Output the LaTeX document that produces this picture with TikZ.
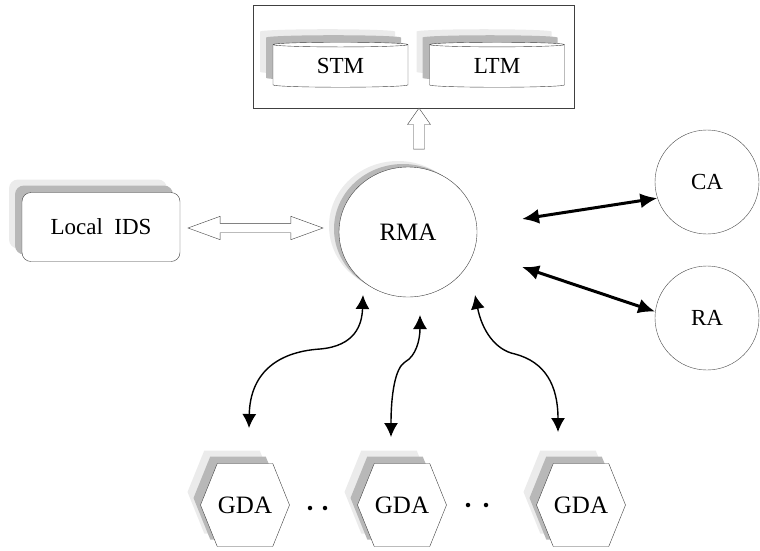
\documentclass[tikz,border=0pt]{standalone}
\usepackage{fontspec}
\setmainfont{Liberation Serif}
\usetikzlibrary{arrows.meta, shapes.geometric, shapes.symbols, shapes.arrows, shadows, calc, positioning}

\begin{document}
\begin{tikzpicture}[x=1pt, y=-1pt,
                font=\fontsize{23}{27}\selectfont,
                softshadow/.style={
                    copy shadow={shadow xshift=-13pt, shadow yshift=13pt, fill=black!8, draw=none, opacity=1},
                    copy shadow={shadow xshift=-7pt, shadow yshift=7pt, fill=black!28, draw=none, opacity=1}},
                ringshadow/.style={
                    copy shadow={shadow xshift=-10pt, shadow yshift=6pt, fill=black!8, draw=none, opacity=1},
                    copy shadow={shadow xshift=-5pt, shadow yshift=3pt, fill=black!28, draw=none, opacity=1}},
                frame/.style={rectangle, draw=black!75, line width=0.9pt, minimum width=321pt, minimum height=103pt, inner sep=0pt},
                store/.style={cylinder, shape border rotate=90, aspect=0.1, draw=black!75, fill=white, minimum width=135pt, minimum height=45pt, inner sep=0pt, softshadow},
                ids/.style={rectangle, rounded corners=9pt, draw=black!75, fill=white, minimum width=158pt, minimum height=69pt, softshadow},
                manager/.style={ellipse, draw=black!75, fill=white, minimum width=138pt, minimum height=130pt, inner sep=0pt, ringshadow, font=\fontsize{25}{29}\selectfont},
                agent/.style={circle, draw=black!70, fill=white, minimum size=104pt, inner sep=0pt},
                gda/.style={signal, signal to=east and west, signal pointer angle=136, draw=black!75, fill=white, minimum width=89pt, minimum height=83pt, inner sep=0pt, softshadow, font=\fontsize{25}{29}\selectfont},
                upway/.style={single arrow, shape border rotate=90, draw=black!75, fill=white, minimum height=41pt, inner sep=5.3pt, single arrow head extend=6pt, single arrow tip angle=70},
                twoway/.style={double arrow, draw=black!75, fill=white, minimum height=135pt, inner sep=4.5pt, double arrow head extend=7pt, double arrow tip angle=40},
                wide/.style={{Latex[length=17pt,width=15pt]}-{Latex[length=17pt,width=15pt]}, line width=3pt},
                link/.style={{Latex[length=14pt,width=14pt]}-{Latex[length=14pt,width=14pt]}, line width=1.4pt},
                dotmark/.style={circle, fill=black, inner sep=0pt, minimum size=4.5pt}
            ]
            \useasboundingbox (0,0) rectangle (760,550);

            % memory
            \node[frame] (memory) at (413.5,56.5) {};
            \node[store] (stm) at (340.5,66) {STM};
            \node[store] (ltm) at (497,66) {LTM};

            \node[ids] (local) at (101,227) {Local~~IDS};
            \node[manager] (rma) at (408,232) {RMA};
            \node[agent] (ca) at (707,182) {CA};
            \node[agent] (ra) at (707,318) {RA};

            \node[gda] (gda1) at (245,505) {GDA};
            \node[gda] (gda2) at (402,505) {GDA};
            \node[gda] (gda3) at (581,505) {GDA};
            \node[dotmark] (d1) at (310,508) {};
            \node[dotmark] (d2) at (325,508) {};
            \node[dotmark] (d3) at (468,505) {};
            \node[dotmark] (d4) at (486,505) {};

            \node[upway] (tomem) at (419,132.5) {};
            \node[twoway] (toids) at (255.5,228) {};

            \coordinate (rmaca) at (522,219);
            \coordinate (rmara) at (522,267);
            \draw[wide] (rmaca) -- (ca.198);
            \draw[wide] (rmara) -- (ra.173);

            \coordinate (g1top) at (363,295);
            \coordinate (g1bot) at (249,428);
            \coordinate (g2top) at (420,315);
            \coordinate (g2bot) at (391,437);
            \coordinate (g3top) at (475,295);
            \coordinate (g3bot) at (558,432);
            \draw[link] (g1bot) .. controls (250,375) and (275,352) .. (320,349) .. controls (355,346) and (362,325) .. (g1top);
            \draw[link] (g2bot) .. controls (391,395) and (395,368) .. (405,362) .. controls (416,356) and (420,340) .. (g2top);
            \draw[link] (g3top) .. controls (482,330) and (495,350) .. (515,354) .. controls (545,362) and (558,385) .. (g3bot);
            \end{tikzpicture}
\end{document}
